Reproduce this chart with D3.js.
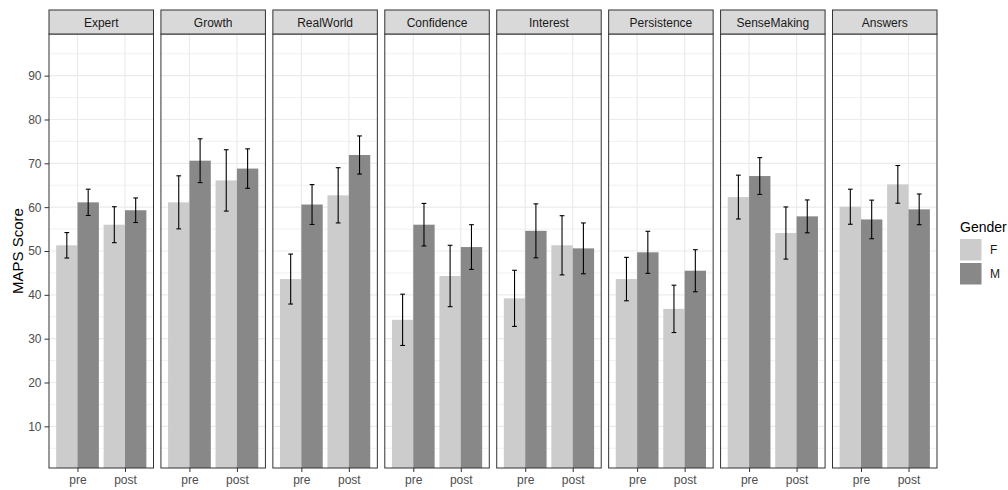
<!DOCTYPE html>
<html>
<head>
<meta charset="utf-8">
<script src="https://cdn.jsdelivr.net/npm/d3@7/dist/d3.min.js"></script>
<style>
  body { margin: 0; background: #fff; }
  svg { display: block; }
  text { font-family: "Liberation Sans", Arial, sans-serif; }
</style>
</head>
<body>
<svg id="chart" width="1008" height="490"></svg>
<script>
// MAPS sub-scale scores by gender, before and after the course
const scaleNames = ["Expert", "Growth", "RealWorld", "Confidence", "Interest", "Persistence", "SenseMaking", "Answers"];
const times = ["pre", "post"];
const genders = ["F", "M"];

const femalePre  = [51.3, 61.1, 43.6, 34.3, 39.2, 43.6, 62.3, 60.1];
const malePre    = [61.1, 70.6, 60.6, 56.0, 54.6, 49.7, 67.1, 57.2];
const femalePost = [56.0, 66.1, 62.7, 44.3, 51.3, 36.8, 54.1, 65.2];
const malePost   = [59.3, 68.8, 71.9, 50.9, 50.6, 45.5, 57.9, 59.5];

// half-width of each error bar
const femalePreErr  = [2.9, 6.05, 5.7, 5.85, 6.4, 4.95, 5.0, 4.0];
const malePreErr    = [3.0, 5.0, 4.55, 4.85, 6.15, 4.8, 4.2, 4.4];
const femalePostErr = [4.1, 7.0, 6.3, 7.0, 6.75, 5.4, 5.95, 4.3];
const malePostErr   = [2.8, 4.5, 4.35, 5.1, 5.8, 4.8, 3.75, 3.5];

const yMajor = [10, 20, 30, 40, 50, 60, 70, 80, 90];
const yMinor = [5, 15, 25, 35, 45, 55, 65, 75, 85, 95];

// long-format rows
const rows = [];
scaleNames.forEach((s, i) => {
  rows.push({ scale: s, time: "pre",  gender: "F", mean: femalePre[i],  err: femalePreErr[i] });
  rows.push({ scale: s, time: "pre",  gender: "M", mean: malePre[i],    err: malePreErr[i] });
  rows.push({ scale: s, time: "post", gender: "F", mean: femalePost[i], err: femalePostErr[i] });
  rows.push({ scale: s, time: "post", gender: "M", mean: malePost[i],   err: malePostErr[i] });
});

const svg = d3.select("#chart");
const panelTop = 34, panelBottom = 468, stripTop = 10;
const fill = d3.scaleOrdinal().domain(genders).range(["#CCCCCC", "#888888"]);
const border = "#333333", grid = "#EBEBEB", tickText = "#4D4D4D";

const panelX = d3.scaleBand().domain(scaleNames).range([49, 937]).paddingInner(0.0664).paddingOuter(0);
const pw = panelX.bandwidth();
const y = d3.scaleLinear().domain([0.5, 99.5]).range([panelBottom, panelTop]);
const x = d3.scalePoint().domain(times).range([0, pw]).padding(0.6);
const step = x.step();
const dodge = d3.scaleBand().domain(genders).range([-0.45 * step, 0.45 * step]).padding(0);
const capW = 0.1 * step;

scaleNames.forEach(name => {
  const g = svg.append("g").attr("transform", `translate(${panelX(name)},0)`);
  const data = rows.filter(r => r.scale === name);

  g.append("rect").attr("x", 0).attr("y", panelTop).attr("width", pw)
    .attr("height", panelBottom - panelTop).attr("fill", "#fff");

  // grid
  g.selectAll(".minor").data(yMinor).join("line")
    .attr("x1", 0).attr("x2", pw).attr("y1", d => y(d)).attr("y2", d => y(d))
    .attr("stroke", grid).attr("stroke-width", 0.7);
  g.selectAll(".major").data(yMajor).join("line")
    .attr("x1", 0).attr("x2", pw).attr("y1", d => y(d)).attr("y2", d => y(d))
    .attr("stroke", grid).attr("stroke-width", 1.2);
  g.selectAll(".vmajor").data(times).join("line")
    .attr("x1", d => x(d)).attr("x2", d => x(d)).attr("y1", panelTop).attr("y2", panelBottom)
    .attr("stroke", grid).attr("stroke-width", 1.2);

  // bars
  g.selectAll(".bar").data(data).join("rect")
    .attr("x", d => x(d.time) + dodge(d.gender))
    .attr("width", dodge.bandwidth())
    .attr("y", d => y(d.mean))
    .attr("height", d => panelBottom - y(d.mean))
    .attr("fill", d => fill(d.gender));

  // error bars
  const eb = g.selectAll(".eb").data(data).join("g")
    .attr("transform", d => `translate(${x(d.time) + dodge(d.gender) + dodge.bandwidth() / 2},0)`);
  eb.append("line").attr("x1", 0).attr("x2", 0)
    .attr("y1", d => y(d.mean - d.err)).attr("y2", d => y(d.mean + d.err));
  eb.append("line").attr("x1", -capW / 2).attr("x2", capW / 2)
    .attr("y1", d => y(d.mean + d.err)).attr("y2", d => y(d.mean + d.err));
  eb.append("line").attr("x1", -capW / 2).attr("x2", capW / 2)
    .attr("y1", d => y(d.mean - d.err)).attr("y2", d => y(d.mean - d.err));
  eb.selectAll("line").attr("stroke", "#000").attr("stroke-width", 1.1);

  // panel border
  g.append("rect").attr("x", 0).attr("y", panelTop).attr("width", pw)
    .attr("height", panelBottom - panelTop).attr("fill", "none")
    .attr("stroke", border).attr("stroke-width", 1);

  // strip
  g.append("rect").attr("x", 0).attr("y", stripTop).attr("width", pw)
    .attr("height", panelTop - stripTop).attr("fill", "#D9D9D9")
    .attr("stroke", border).attr("stroke-width", 1);
  g.append("text").attr("x", pw / 2).attr("y", 26.5).attr("text-anchor", "middle")
    .attr("font-size", "12px").attr("fill", "#1A1A1A").text(name);

  // x axis
  const xa = g.append("g").attr("transform", `translate(0,${panelBottom})`)
    .call(d3.axisBottom(x).tickSize(4).tickPadding(3));
  xa.select(".domain").remove();
  xa.selectAll(".tick line").attr("stroke", border);
  xa.selectAll(".tick text").attr("font-size", "12px").attr("fill", tickText)
    .attr("font-family", "Liberation Sans, Arial, sans-serif");
});

// y axis on the first panel
const ya = svg.append("g").attr("transform", `translate(${panelX(scaleNames[0])},0)`)
  .call(d3.axisLeft(y).tickValues(yMajor).tickSize(4.5).tickPadding(3));
ya.select(".domain").remove();
ya.selectAll(".tick line").attr("stroke", border);
ya.selectAll(".tick text").attr("font-size", "12px").attr("fill", tickText)
  .attr("font-family", "Liberation Sans, Arial, sans-serif");

svg.append("text").attr("transform", "translate(23,251) rotate(-90)")
  .attr("text-anchor", "middle").attr("font-size", "15px").attr("fill", "#000")
  .text("MAPS Score");

// legend
const lg = svg.append("g").attr("transform", "translate(960,0)");
lg.append("text").attr("x", 0).attr("y", 231.5).attr("font-size", "14px").attr("fill", "#000").text("Gender");
const keys = lg.selectAll(".key").data(genders).join("g")
  .attr("transform", (d, i) => `translate(0,${239 + i * 24})`);
keys.append("rect").attr("width", 21.5).attr("height", 21.5).attr("fill", d => fill(d));
keys.append("text").attr("x", 30).attr("y", 15).attr("font-size", "12px").attr("fill", "#1A1A1A").text(d => d);
</script>
</body>
</html>
